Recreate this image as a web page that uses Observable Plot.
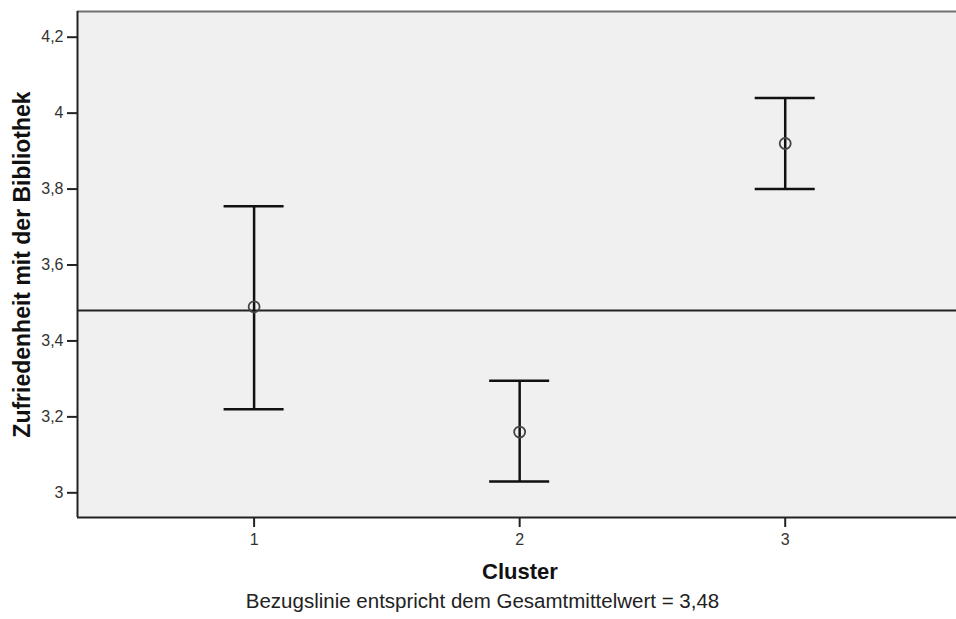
<!DOCTYPE html>
<html>
<head>
<meta charset="utf-8">
<script src="https://cdn.jsdelivr.net/npm/d3@7"></script>
<script src="https://cdn.jsdelivr.net/npm/@observablehq/plot@0.6"></script>
<style>
  html, body { margin: 0; padding: 0; background: #ffffff; }
</style>
</head>
<body>
<div id="chart"></div>
<script>
// Data
const clusters = [1, 2, 3];
const means = [3.49, 3.16, 3.92];
const lower = [3.22, 3.03, 3.80];
const upper = [3.755, 3.295, 4.04];
const grandMean = 3.48;
const xTicks = [1, 2, 3];
const yTicks = [3, 3.2, 3.4, 3.6, 3.8, 4, 4.2];
const yLabel = "Zufriedenheit mit der Bibliothek";
const xLabel = "Cluster";
const caption = "Bezugslinie entspricht dem Gesamtmittelwert = 3,48";

// Scale domains
const xDomain = [0.335, 3.645];
const yDomain = [2.935, 4.2677];

const data = clusters.map((c, i) => ({cluster: c, mean: means[i], lo: lower[i], hi: upper[i]}));
const capHalf = 0.113;
const fmt = d => String(d).replace(".", ",");
const font = "Arial, 'Liberation Sans', sans-serif";

const chart = Plot.plot({
  width: 956,
  height: 619,
  marginTop: 11,
  marginRight: 0,
  marginBottom: 102,
  marginLeft: 77,
  style: {fontFamily: font, background: "#ffffff", color: "#222"},
  x: {type: "linear", domain: xDomain},
  y: {type: "linear", domain: yDomain},
  marks: [
    Plot.frame({fill: "#f0f0f0", stroke: "none"}),
    Plot.ruleY([yDomain[1]], {stroke: "#707070", strokeWidth: 2}),
    Plot.ruleX([xDomain[0]], {stroke: "#222", strokeWidth: 2}),
    Plot.ruleY([yDomain[0]], {stroke: "#222", strokeWidth: 2}),
    Plot.ruleY([grandMean], {stroke: "#222", strokeWidth: 2}),
    Plot.ruleX(data, {x: "cluster", y1: "lo", y2: "hi", stroke: "#111", strokeWidth: 2.5}),
    Plot.ruleY(data, {y: "lo", x1: d => d.cluster - capHalf, x2: d => d.cluster + capHalf, stroke: "#111", strokeWidth: 2.5}),
    Plot.ruleY(data, {y: "hi", x1: d => d.cluster - capHalf, x2: d => d.cluster + capHalf, stroke: "#111", strokeWidth: 2.5}),
    Plot.dot(data, {x: "cluster", y: "mean", r: 5.5, stroke: "#444", strokeWidth: 1.8, fill: "none"}),
    Plot.axisX({ticks: xTicks, tickSize: 10, tickFormat: () => "", label: null, strokeWidth: 2, stroke: "#222"}),
    Plot.axisY({ticks: yTicks, tickSize: 10, tickFormat: () => "", label: null, strokeWidth: 2, stroke: "#222"}),
    Plot.text(xTicks, {x: d => d, text: d => String(d), frameAnchor: "bottom", dy: 16, textAnchor: "middle", lineAnchor: "top", fontSize: 16, fill: "#333"}),
    Plot.text(yTicks, {y: d => d, text: fmt, frameAnchor: "left", dx: -14, textAnchor: "end", lineAnchor: "middle", fontSize: 16, fill: "#333"}),
    Plot.text([yLabel], {text: d => d, frameAnchor: "left", dx: -54.5, rotate: -90, textAnchor: "middle", lineAnchor: "middle", fontSize: 23, fontWeight: "bold", fill: "#111"}),
    Plot.text([xLabel], {text: d => d, frameAnchor: "bottom", dx: 3, dy: 61, textAnchor: "middle", lineAnchor: "bottom", fontSize: 22, fontWeight: "bold", fill: "#111"}),
    Plot.text([caption], {text: d => d, frameAnchor: "bottom", dx: -34.5, dy: 90, textAnchor: "middle", lineAnchor: "bottom", fontSize: 20.5, fill: "#222"})
  ]
});
document.getElementById("chart").appendChild(chart);
</script>
</body>
</html>
